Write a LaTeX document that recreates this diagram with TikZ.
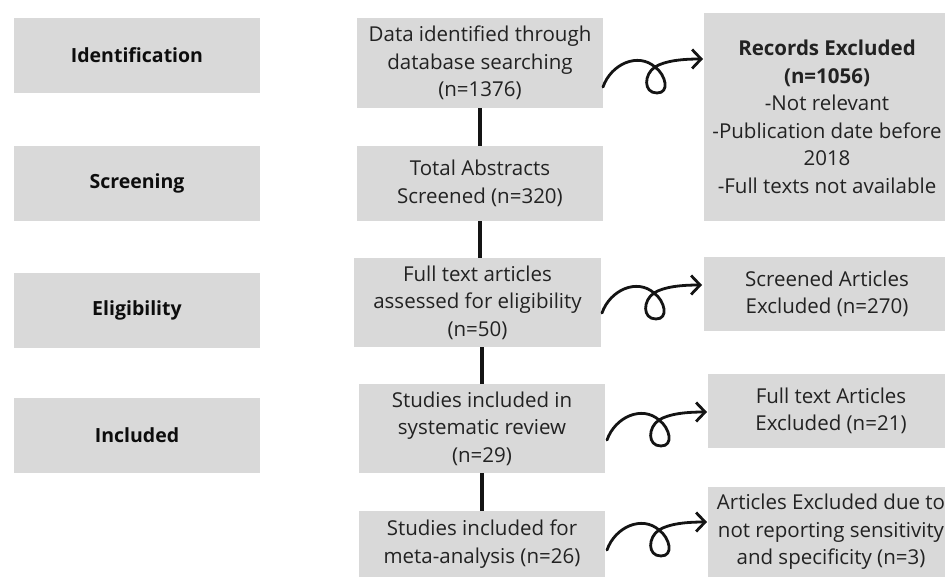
\documentclass[tikz,border=0pt]{standalone}
\usepackage{fontspec}
\setmainfont{Open Sans}
\usetikzlibrary{arrows.meta}
\definecolor{boxgray}{HTML}{D9D9D9}
\definecolor{txt}{HTML}{222222}
\tikzset{
  box/.style={fill=boxgray, draw=none, align=center, text=txt, inner sep=0pt,
    font=\fontsize{20.5}{27.5}\selectfont},
  stage/.style={box, text=black!95, minimum width=246pt, minimum height=75pt,
    font=\fontsize{19.5}{27}\selectfont\bfseries},
  link/.style={line width=4pt, draw=black!92},
  curl/.style={line width=2.8pt, draw=black!92, line cap=round,
    -{Straight Barb[length=9pt,width=19pt,line width=2.8pt]}},
}
\newcommand\curlarrow[1]{%
  \begin{scope}[shift={(#1)}]
    \draw[curl] (0,0) .. controls (8,-23) and (35,-35) .. (52,-20)
      .. controls (63,-12) and (67,6) .. (54,6)
      .. controls (40,6) and (41,-13) .. (52,-20)
      .. controls (62,-26.4) and (80,-28) .. (100,-28);
  \end{scope}}
\begin{document}
\begin{tikzpicture}[x=1pt,y=-1pt]
\useasboundingbox (0,0) rectangle (945,579);
% stage labels
\node[stage] (id) at (137,55.5) {Identification};
\node[stage] (sc) at (137,183.5) {Screening};
\node[stage] (el) at (137,310) {Eligibility};
\node[stage] (in) at (137,435.5) {Included};
% main flow
\node[box, minimum width=246pt, minimum height=90pt] (b1) at (480,63)
  {Data identified through\\database searching\\(n=1376)};
\node[box, minimum width=246pt, minimum height=75pt] (b2) at (480,183.5)
  {Total Abstracts\\Screened (n=320)};
\node[box, minimum width=247pt, minimum height=89pt] (b3) at (477.5,302.5)
  {Full text articles\\assessed for eligibility\\(n=50)};
\node[box, minimum width=246pt, minimum height=89pt] (b4) at (482,428.5)
  {Studies included in\\systematic review\\(n=29)};
\node[box, minimum width=246pt, minimum height=66pt] (b5) at (482,544)
  {Studies included for\\meta-analysis (n=26)};
% exclusions
\node[box, minimum width=246pt, minimum height=208pt] (r1) at (827,117)
  {\textbf{Records Excluded}\\\textbf{(n=1056)}\\-Not relevant\\-Publication date before\\2018\\-Full texts not available};
\node[box, minimum width=246pt, minimum height=74pt] (r2) at (827,294)
  {Screened Articles\\Excluded (n=270)};
\node[box, minimum width=246pt, minimum height=74pt] (r3) at (831,411)
  {Full text Articles\\Excluded (n=21)};
\node[box, minimum width=246pt, minimum height=90pt] (r4) at (831,532)
  {Articles Excluded due to\\not reporting sensitivity\\and specificity (n=3)};
% vertical links
\draw[link] (b1.south) -- (b2.north);
\draw[link] (b2.south) -- (b2.south |- b3.north);
\draw[link] (b4.north |- b3.south) -- (b4.north);
\draw[link] (b4.south) -- (b5.north);
% curly arrows
\coordinate (s1) at (603,87);
\coordinate (s2) at (602,313);
\coordinate (s3) at (607,440);
\coordinate (s4) at (607,550);
\curlarrow{s1}
\curlarrow{s2}
\curlarrow{s3}
\curlarrow{s4}
\end{tikzpicture}
\end{document}
